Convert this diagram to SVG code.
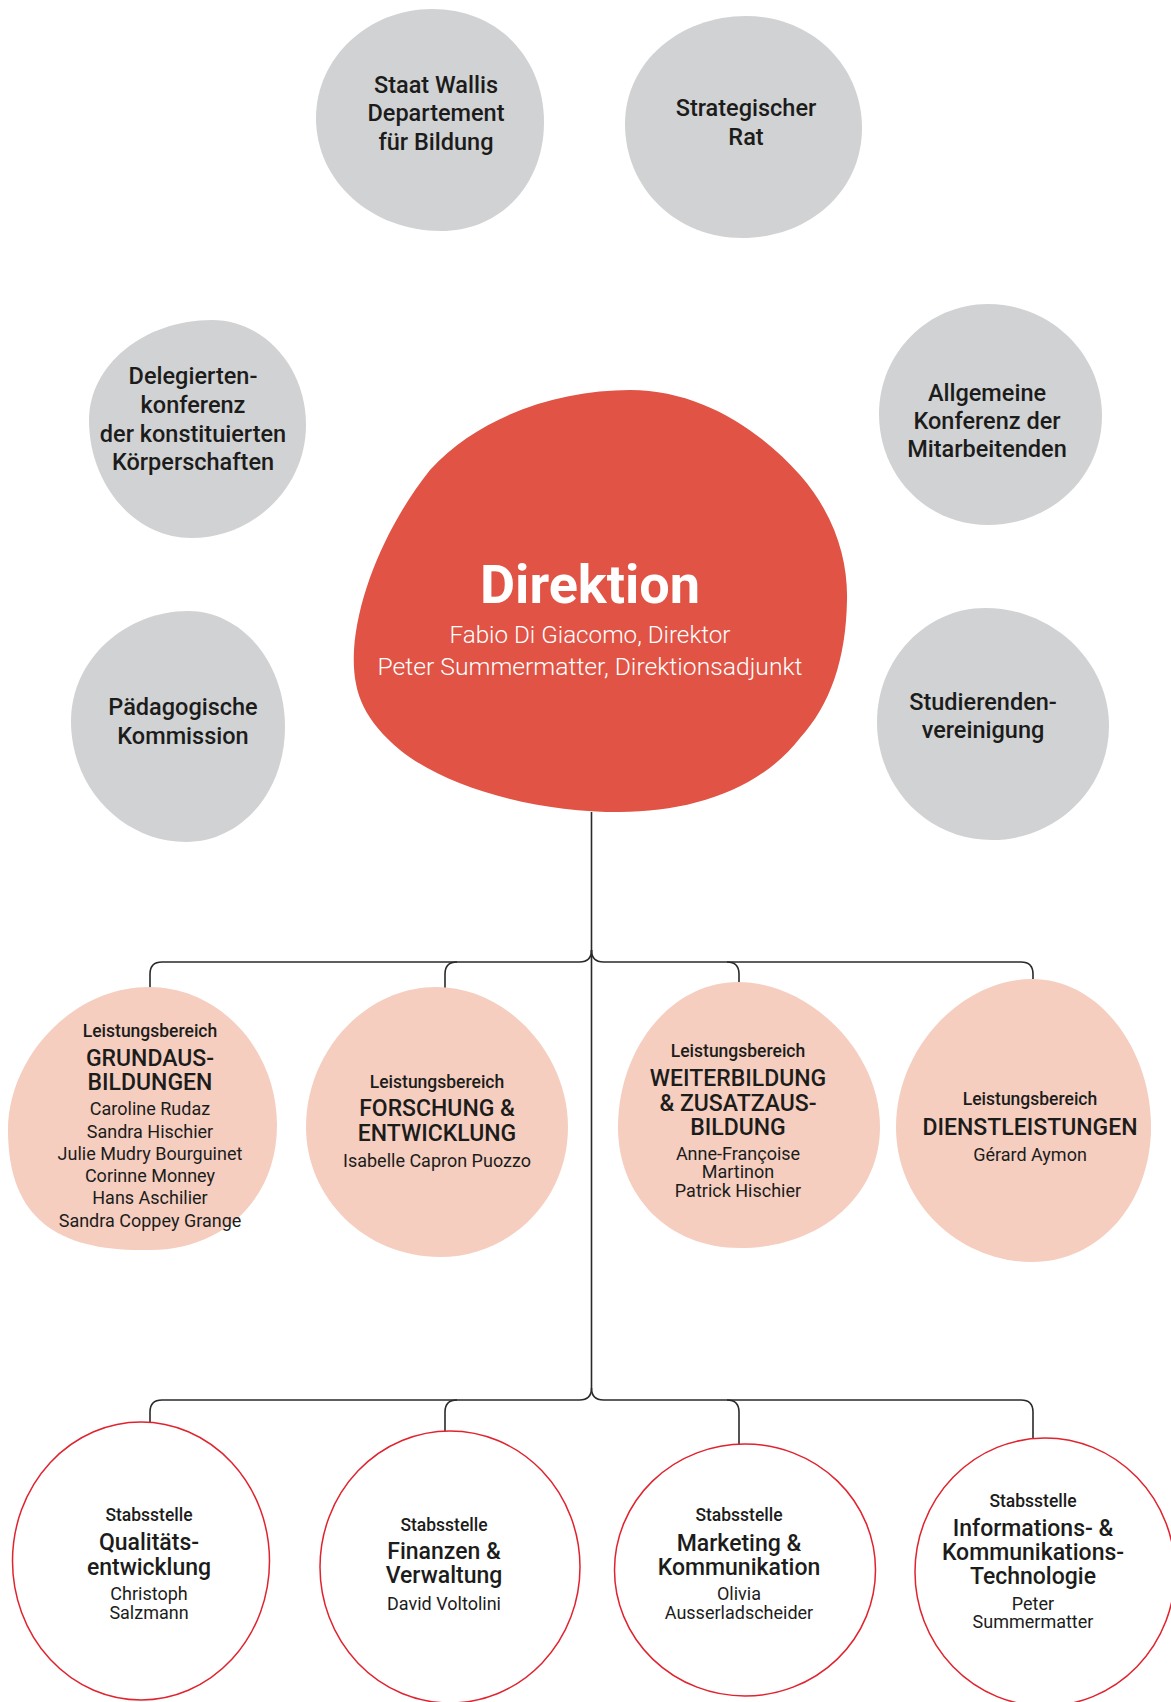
<svg xmlns="http://www.w3.org/2000/svg" width="1171" height="1702" viewBox="0 0 1171 1702">
<style>
text{font-family:Roboto,"Liberation Sans",sans-serif;text-anchor:middle;fill:#1c1c1b}
.g{fill:#d1d2d4}
.p{fill:#f5cec0}
.r{fill:#ffffff;stroke:#e0232e;stroke-width:1.5}
.gt{font-size:23.5px;font-weight:500}
.lb{font-size:17.5px;font-weight:500}
.ti{font-size:23px;font-weight:500}
.nm{font-size:18px;font-weight:400}
.st{font-size:23px;font-weight:500}
.c{fill:none;stroke:#2a2a2a;stroke-width:1.6}
</style>
<rect width="1171" height="1702" fill="#ffffff"/>

<g id="connectors">
<path class="c" d="M591.5,812 V1388"/>
<path class="c" d="M591.5,950 Q591.5,962 579.5,962 H162 Q150,962 150,974 V988"/>
<path class="c" d="M457,962 Q445,962 445,974 V988"/>
<path class="c" d="M591.5,950 Q591.5,962 603.5,962 H1021 Q1033,962 1033,974 V979"/>
<path class="c" d="M727,962 Q739,962 739,974 V982"/>
<path class="c" d="M591.5,1388 Q591.5,1400 579.5,1400 H162 Q150,1400 150,1412 V1422"/>
<path class="c" d="M457,1400 Q445,1400 445,1412 V1431"/>
<path class="c" d="M591.5,1388 Q591.5,1400 603.5,1400 H1021 Q1033,1400 1033,1412 V1438"/>
<path class="c" d="M727,1400 Q739,1400 739,1412 V1444"/>
</g>

<g id="staat-wallis">
<path class="g" d="M432,9 C500,9 544,60 544,122 C544,185 500,231 441,231 C372,231 316,182 316,118 C316,58 368,9 432,9 Z"/>
<text class="gt" x="436" y="93">Staat Wallis</text>
<text class="gt" x="436" y="121">Departement</text>
<text class="gt" x="436" y="150">für Bildung</text>
</g>

<g id="strategischer-rat">
<path class="g" d="M746,16 C812,16 862,66 862,128 C862,192 808,238 742,238 C676,238 625,188 625,124 C625,62 680,16 746,16 Z"/>
<text class="gt" x="746" y="116">Strategischer</text>
<text class="gt" x="746" y="145">Rat</text>
</g>

<g id="delegiertenkonferenz">
<path class="g" d="M212,320 C264,320 306,367 306,425 C306,487 254,538 191,538 C135,538 89,485 89,420 C89,365 144,320 212,320 Z"/>
<text class="gt" x="193" y="384">Delegierten-</text>
<text class="gt" x="193" y="413">konferenz</text>
<text class="gt" x="193" y="442">der konstituierten</text>
<text class="gt" x="193" y="470">Körperschaften</text>
</g>

<g id="allgemeine-konferenz">
<path class="g" d="M988,304 C1051,304 1102,354 1102,416 C1102,477 1051,525 988,525 C926,525 879,475 879,414 C879,353 928,304 988,304 Z"/>
<text class="gt" x="987" y="401">Allgemeine</text>
<text class="gt" x="987" y="429">Konferenz der</text>
<text class="gt" x="987" y="457">Mitarbeitenden</text>
</g>

<g id="paedagogische-kommission">
<path class="g" d="M188,611 C242,611 285,663 285,727 C285,791 242,842 186,842 C124,842 71,789 71,721 C71,659 126,611 188,611 Z"/>
<text class="gt" x="183" y="715">Pädagogische</text>
<text class="gt" x="183" y="744">Kommission</text>
</g>

<g id="studierendenvereinigung">
<path class="g" d="M985,608 C1053,608 1109,662 1109,726 C1109,789 1056,840 992,840 C927,840 877,787 877,722 C877,659 926,608 985,608 Z"/>
<text class="gt" x="983" y="710">Studierenden-</text>
<text class="gt" x="983" y="738">vereinigung</text>
</g>

<g id="direktion">
<path fill="#e05345" d="M630,390 C700,390 760,430 800,475 C835,515 848,560 847,600 C846,660 830,705 800,738 C760,790 690,812 620,812 C540,812 450,790 400,750 C362,718 352,690 354,650 C358,590 390,520 430,470 C480,415 560,390 630,390 Z"/>
<text x="590" y="603" style="font-size:54px;font-weight:700;fill:#ffffff">Direktion</text>
<text x="590" y="643" textLength="281" lengthAdjust="spacingAndGlyphs" style="font-size:23px;font-weight:300;fill:#ffffff">Fabio Di Giacomo, Direktor</text>
<text x="590" y="675" textLength="425" lengthAdjust="spacingAndGlyphs" style="font-size:23px;font-weight:300;fill:#ffffff">Peter Summermatter, Direktionsadjunkt</text>
</g>

<g id="grundausbildungen">
<path class="p" d="M149,987 C220,987 277,1050 277,1125 C277,1200 222,1250 150,1250 C62,1252 8,1222 8,1130 C8,1058 72,987 149,987 Z"/>
<text class="lb" x="150" y="1037">Leistungsbereich</text>
<text class="ti" x="150" y="1066">GRUNDAUS-</text>
<text class="ti" x="150" y="1090">BILDUNGEN</text>
<text class="nm" x="150" y="1115">Caroline Rudaz</text>
<text class="nm" x="150" y="1138">Sandra Hischier</text>
<text class="nm" x="150" y="1160">Julie Mudry Bourguinet</text>
<text class="nm" x="150" y="1182">Corinne Monney</text>
<text class="nm" x="150" y="1204">Hans Aschilier</text>
<text class="nm" x="150" y="1227">Sandra Coppey Grange</text>
</g>

<g id="forschung-entwicklung">
<path class="p" d="M436,987 C508,987 568,1055 568,1127 C568,1200 510,1257 440,1257 C365,1257 306,1198 306,1127 C306,1052 365,987 436,987 Z"/>
<text class="lb" x="437" y="1088">Leistungsbereich</text>
<text class="ti" x="437" y="1116">FORSCHUNG &amp;</text>
<text class="ti" x="437" y="1141">ENTWICKLUNG</text>
<text class="nm" x="437" y="1167">Isabelle Capron Puozzo</text>
</g>

<g id="weiterbildung">
<path class="p" d="M738,982 C808,982 880,1050 880,1127 C880,1196 820,1248 740,1248 C668,1248 618,1196 618,1127 C618,1050 670,982 738,982 Z"/>
<text class="lb" x="738" y="1057">Leistungsbereich</text>
<text class="ti" x="738" y="1086">WEITERBILDUNG</text>
<text class="ti" x="738" y="1111">&amp; ZUSATZAUS-</text>
<text class="ti" x="738" y="1135">BILDUNG</text>
<text class="nm" x="738" y="1160">Anne-Françoise</text>
<text class="nm" x="738" y="1178">Martinon</text>
<text class="nm" x="738" y="1197">Patrick Hischier</text>
</g>

<g id="dienstleistungen">
<path class="p" d="M1032,979 C1100,979 1151,1050 1151,1127 C1151,1202 1100,1262 1032,1262 C960,1262 896,1204 896,1127 C896,1048 962,979 1032,979 Z"/>
<text class="lb" x="1030" y="1105">Leistungsbereich</text>
<text class="ti" x="1030" y="1135">DIENSTLEISTUNGEN</text>
<text class="nm" x="1030" y="1161">Gérard Aymon</text>
</g>

<g id="qualitaetsentwicklung">
<ellipse class="r" cx="141" cy="1561" rx="128.5" ry="139"/>
<text class="lb" x="149" y="1521">Stabsstelle</text>
<text class="st" x="149" y="1550">Qualitäts-</text>
<text class="st" x="149" y="1575">entwicklung</text>
<text class="nm" x="149" y="1600">Christoph</text>
<text class="nm" x="149" y="1619">Salzmann</text>
</g>

<g id="finanzen-verwaltung">
<ellipse class="r" cx="450" cy="1567" rx="130" ry="136"/>
<text class="lb" x="444" y="1531">Stabsstelle</text>
<text class="st" x="444" y="1559">Finanzen &amp;</text>
<text class="st" x="444" y="1583">Verwaltung</text>
<text class="nm" x="444" y="1610">David Voltolini</text>
</g>

<g id="marketing-kommunikation">
<ellipse class="r" cx="745" cy="1570" rx="130.5" ry="126"/>
<text class="lb" x="739" y="1521">Stabsstelle</text>
<text class="st" x="739" y="1551">Marketing &amp;</text>
<text class="st" x="739" y="1575">Kommunikation</text>
<text class="nm" x="739" y="1600">Olivia</text>
<text class="nm" x="739" y="1619">Ausserladscheider</text>
</g>

<g id="ikt">
<ellipse class="r" cx="1045" cy="1572" rx="130" ry="134"/>
<text class="lb" x="1033" y="1507">Stabsstelle</text>
<text class="st" x="1033" y="1536">Informations- &amp;</text>
<text class="st" x="1033" y="1560">Kommunikations-</text>
<text class="st" x="1033" y="1584">Technologie</text>
<text class="nm" x="1033" y="1610">Peter</text>
<text class="nm" x="1033" y="1628">Summermatter</text>
</g>
</svg>
